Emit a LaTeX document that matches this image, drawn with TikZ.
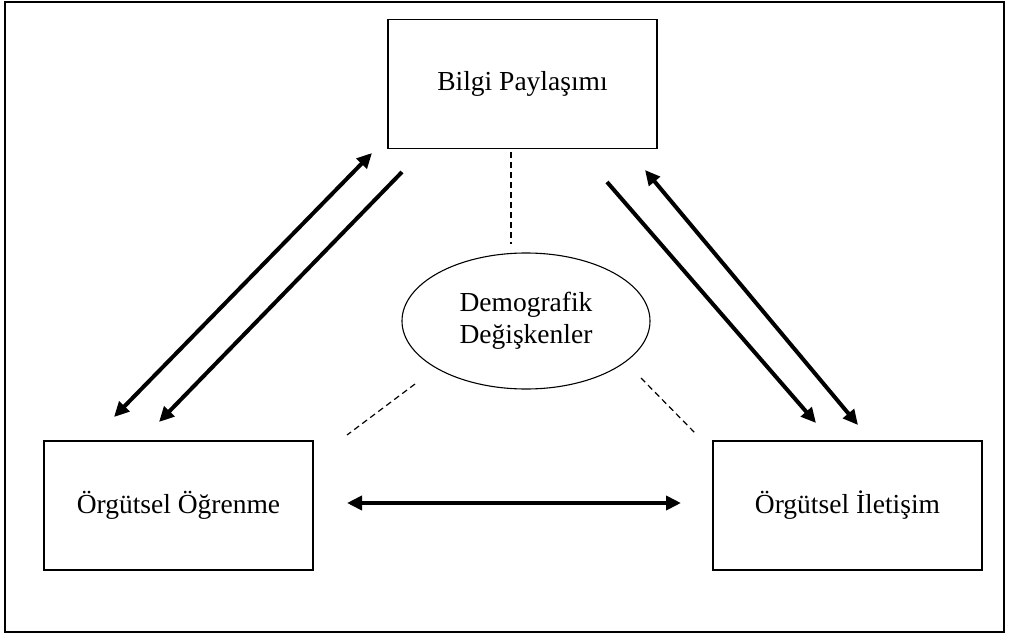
\documentclass[tikz,border=0pt]{standalone}
\usepackage{fontspec}
\setmainfont{Liberation Serif}
\usetikzlibrary{arrows.meta,shapes.geometric}
\begin{document}
\begin{tikzpicture}[x=1pt,y=-1pt,
  box/.style={draw,line width=1.3pt,minimum width=269pt,minimum height=129pt,inner sep=0pt,font=\fontsize{27.5}{32}\selectfont},
  ell/.style={draw,ellipse,line width=1.1pt,minimum width=248pt,minimum height=136pt,inner sep=0pt,align=center,font=\fontsize{27.5}{32}\selectfont},
  thick arrow/.style={line width=4pt,-{Triangle[length=15pt,width=14pt]}},
  both arrow/.style={line width=4pt,{Triangle[length=15pt,width=14pt]}-{Triangle[length=15pt,width=14pt]}},
  dashline/.style={line width=1.2pt,dash pattern=on 6pt off 4pt}]
\useasboundingbox (0,0) rectangle (1010,637);
\draw[line width=2pt] (5,2) rectangle (1004,632);
\node[box] (bp) at (522.5,84) {Bilgi Paylaşımı};
\node[box] (oo) at (178.5,505.5) {Örgütsel Öğrenme};
\node[box] (oi) at (847.5,505.5) {Örgütsel İletişim};
\node[ell] (dd) at (526,321) {Demografik\\Değişkenler};
% endpoints
\coordinate (a1) at (372,153);
\coordinate (a2) at (114,417);
\coordinate (b1) at (402,172);
\coordinate (b2) at (159,422);
\coordinate (c1) at (607,182);
\coordinate (c2) at (816,423);
\coordinate (d1) at (645,170);
\coordinate (d2) at (858,425);
\coordinate (h1) at (347,503);
\coordinate (h2) at (681,503);
\coordinate (t1) at (511,152);
\coordinate (t2) at (511,244);
\coordinate (l1) at (415,384);
\coordinate (l2) at (347,435);
\coordinate (r1) at (641,378);
\coordinate (r2) at (697,435);
\draw[both arrow] (a1) -- (a2);
\draw[thick arrow] (b1) -- (b2);
\draw[thick arrow] (c1) -- (c2);
\draw[both arrow] (d1) -- (d2);
\draw[both arrow] (h1) -- (h2);
\draw[dashline] (t1) -- (t2);
\draw[dashline] (l1) -- (l2);
\draw[dashline] (r1) -- (r2);
\end{tikzpicture}
\end{document}
